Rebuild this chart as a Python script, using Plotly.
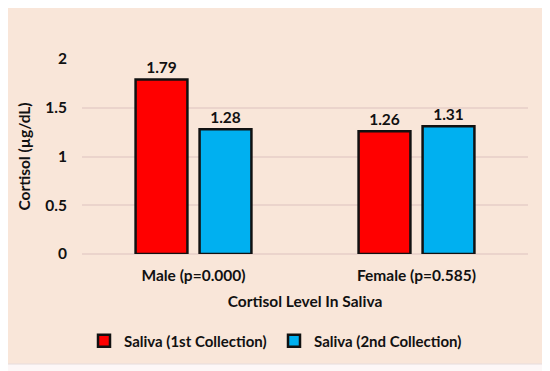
import plotly.graph_objects as go

categories = ["Male (p=0.000)", "Female (p=0.585)"]
series_names = ["Saliva (1st Collection)", "Saliva (2nd Collection)"]
first_collection = [1.79, 1.26]
second_collection = [1.28, 1.31]
colors = ["#FF0000", "#00B0F0"]

FONT = "Lato"
FS = 15.5
FSL = 15

# page body adds an 8px offset; lay out in figure pixels = screen pixels - 8
O = 8
W, H = 550 - O, 371 - O
L, T = 82 - O, 59 - O
pw, ph = 446, 195
R, B = W - L - pw, H - T - ph

def fx(p):
    return (p - O - L) / pw

def fy(p):
    return (T + ph - (p - O)) / ph

fig = go.Figure()
for i, (name, vals, col) in enumerate(zip(series_names, [first_collection, second_collection], colors)):
    fig.add_trace(go.Bar(
        x=categories, y=vals, name=name,
        legend="legend" if i == 0 else "legend2",
        marker=dict(color=col, line=dict(color="#111111", width=2.5)),
        text=[f"{v:.2f}" for v in vals], textposition="outside",
        textfont=dict(family=FONT, size=FS, color="#111111", weight="bold"),
        cliponaxis=False,
    ))

fig.add_shape(type="rect", xref="paper", yref="paper",
              x0=fx(3), x1=fx(543),
              y0=fy(364), y1=fy(5),
              fillcolor="#F9E6D9", line=dict(color="#E6DCDC", width=1), layer="below")

legend_common = dict(orientation="h", yanchor="middle", y=fy(341), xanchor="left",
                     font=dict(family=FONT, size=FSL, color="#111111", weight="bold"),
                     bgcolor="rgba(0,0,0,0)", itemwidth=30)

fig.update_layout(
    width=W, height=H,
    margin=dict(l=L, r=R, t=T, b=B, autoexpand=False),
    paper_bgcolor="#FDF7F7",
    plot_bgcolor="rgba(0,0,0,0)",
    barmode="group", bargap=0.426, bargroupgap=0.19,
    font=dict(family=FONT, size=FS, color="#111111", weight="bold"),
    showlegend=True,
    legend=dict(x=fx(84), **legend_common),
    legend2=dict(x=fx(274), **legend_common),
    xaxis=dict(title=dict(text="Cortisol Level In Saliva", standoff=13,
                          font=dict(family=FONT, size=FS, color="#111111", weight="bold")),
               showgrid=False, showline=False, ticks="", ticklabelstandoff=10, automargin=False,
               tickfont=dict(family=FONT, size=FS, color="#111111", weight="bold")),
    yaxis=dict(title=dict(text="Cortisol (µg/dL)", standoff=10,
                          font=dict(family=FONT, size=FS, color="#111111", weight="bold")),
               range=[0, 2], tickvals=[0, 0.5, 1, 1.5, 2], ticktext=["0", "0.5", "1", "1.5", "2"],
               showgrid=True, gridcolor="#EBD4CC", gridwidth=1.5,
               zeroline=True, zerolinecolor="#EBD4CC", zerolinewidth=1.5,
               showline=False, ticks="", ticklabelstandoff=14, automargin=False,
               tickfont=dict(family=FONT, size=FS, color="#111111", weight="bold")),
)

fig.write_html("out.html")
